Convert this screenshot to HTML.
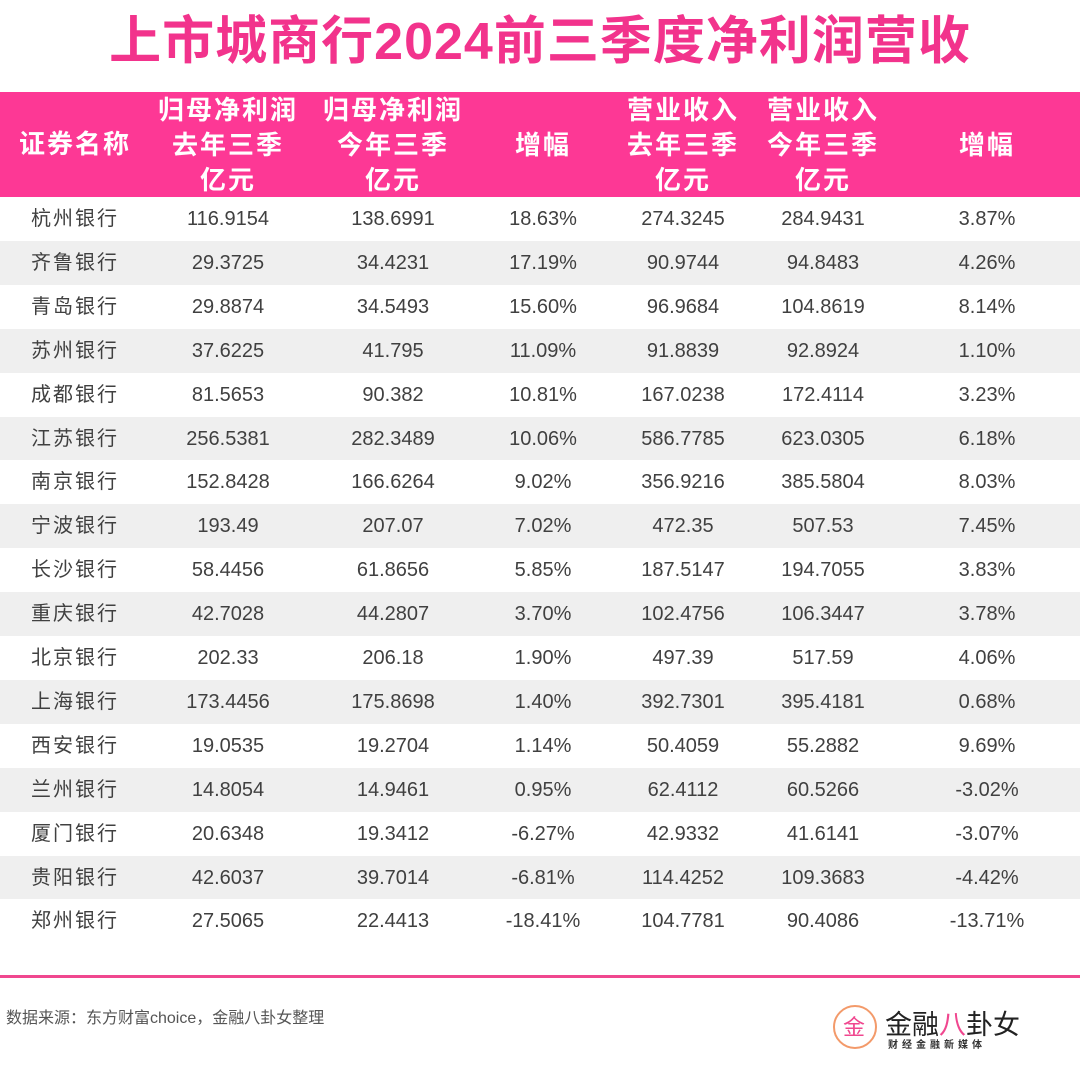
<!DOCTYPE html>
<html><head><meta charset="utf-8">
<style>
body{margin:0;width:1080px;height:1071px;background:#fff;position:relative;overflow:hidden;font-family:"Liberation Sans","Noto Sans CJK SC",sans-serif;}
.abs{position:absolute;}
#title{left:0;width:1080px;top:10px;text-align:center;font-size:52px;font-weight:bold;color:#f2338c;letter-spacing:1px;line-height:64px;}
#hdr{left:0;top:92px;width:1080px;height:105px;background:#fd3895;}
.hc{position:absolute;color:#fff;font-weight:bold;font-size:26px;line-height:35px;text-align:center;width:170px;letter-spacing:2px;}
.row{position:absolute;left:0;width:1080px;height:44px;}
.cell{position:absolute;top:0;height:44px;line-height:44px;text-align:center;width:160px;font-size:20px;color:#404040;}
#line{left:0;top:975px;width:1080px;height:3px;background:#f0478f;}
#src{left:6px;top:1004px;font-size:16px;color:#555;}
</style></head><body>
<div id="title" class="abs">上市城商行2024前三季度净利润营收</div>
<div id="hdr" class="abs">
<div class="hc" style="left:-10px;top:35px">证券名称</div>
<div class="hc" style="left:143px;top:1px">归母净利润<br>去年三季<br>亿元</div>
<div class="hc" style="left:308px;top:1px">归母净利润<br>今年三季<br>亿元</div>
<div class="hc" style="left:458px;top:36px">增幅</div>
<div class="hc" style="left:598px;top:1px">营业收入<br>去年三季<br>亿元</div>
<div class="hc" style="left:738px;top:1px">营业收入<br>今年三季<br>亿元</div>
<div class="hc" style="left:902px;top:36px">增幅</div>
</div>
<div id="rows"></div>
<div id="line" class="abs"></div>
<div id="src" class="abs">数据来源：东方财富choice，金融八卦女整理</div>
<div class="abs" style="left:830px;top:1002px;width:200px;height:56px">
<svg width="200" height="56"><circle cx="25" cy="25" r="21" fill="none" stroke="#f39a6a" stroke-width="2"/><text x="13" y="33" font-size="22" fill="#f0478f" font-family="Noto Sans CJK SC,sans-serif">金</text>
<text x="55" y="32" font-size="27" fill="#222" font-family="Noto Sans CJK SC,sans-serif">金融<tspan fill="#f0478f">八</tspan>卦女</text>
<text x="58" y="46" font-size="10" fill="#333" font-weight="bold" letter-spacing="4" font-family="Noto Sans CJK SC,sans-serif">财经金融新媒体</text></svg></div>
<script>
const names=["杭州银行","齐鲁银行","青岛银行","苏州银行","成都银行","江苏银行","南京银行","宁波银行","长沙银行","重庆银行","北京银行","上海银行","西安银行","兰州银行","厦门银行","贵阳银行","郑州银行"];
const profitLast=["116.9154","29.3725","29.8874","37.6225","81.5653","256.5381","152.8428","193.49","58.4456","42.7028","202.33","173.4456","19.0535","14.8054","20.6348","42.6037","27.5065"];
const profitThis=["138.6991","34.4231","34.5493","41.795","90.382","282.3489","166.6264","207.07","61.8656","44.2807","206.18","175.8698","19.2704","14.9461","19.3412","39.7014","22.4413"];
const profitGrowth=["18.63%","17.19%","15.60%","11.09%","10.81%","10.06%","9.02%","7.02%","5.85%","3.70%","1.90%","1.40%","1.14%","0.95%","-6.27%","-6.81%","-18.41%"];
const revLast=["274.3245","90.9744","96.9684","91.8839","167.0238","586.7785","356.9216","472.35","187.5147","102.4756","497.39","392.7301","50.4059","62.4112","42.9332","114.4252","104.7781"];
const revThis=["284.9431","94.8483","104.8619","92.8924","172.4114","623.0305","385.5804","507.53","194.7055","106.3447","517.59","395.4181","55.2882","60.5266","41.6141","109.3683","90.4086"];
const revGrowth=["3.87%","4.26%","8.14%","1.10%","3.23%","6.18%","8.03%","7.45%","3.83%","3.78%","4.06%","0.68%","9.69%","-3.02%","-3.07%","-4.42%","-13.71%"];
const cols=[names,profitLast,profitThis,profitGrowth,revLast,revThis,revGrowth];
const colNames=["name","profit-last","profit-this","profit-growth","revenue-last","revenue-this","revenue-growth"];
const centers=[75,228,393,543,683,823,987];
const body=document.getElementById('rows');
for(let i=0;i<names.length;i++){
  const r=document.createElement('div');
  r.className='row';
  r.style.top=(197+i*43.9)+'px';
  r.style.background=i%2?'#efefef':'#fff';
  
  
  for(let c=0;c<cols.length;c++){
    const d=document.createElement('div');
    d.className='cell';
    d.style.left=(centers[c]-80)+'px';
    d.textContent=cols[c][i];
    if(c===0)d.style.letterSpacing='2px';
    
    
    r.appendChild(d);
  }
  body.appendChild(r);
}
</script>
</body></html>
